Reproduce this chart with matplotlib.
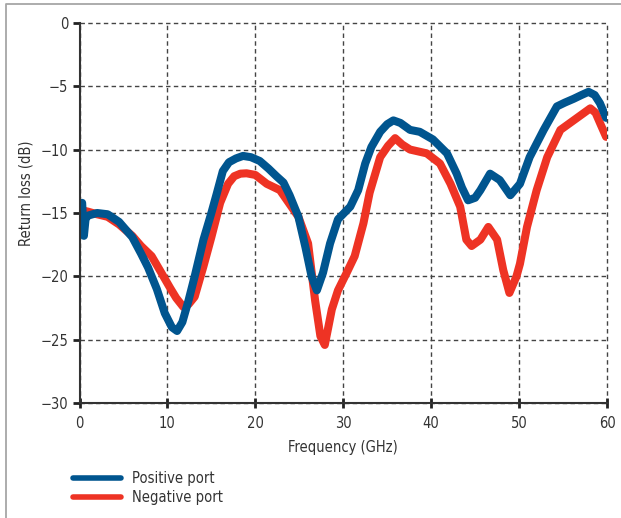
import matplotlib
matplotlib.use('Agg')
import matplotlib.pyplot as plt
from matplotlib.lines import Line2D

plt.rcParams['font.family'] = ['Liberation Sans Narrow', 'DejaVu Sans']
plt.rcParams['font.stretch'] = 'condensed'

# Positive port (blue)
pos_f = [0.3, 0.5, 0.7, 1.0, 2.0, 3.2, 4.5, 6.0, 7.0, 7.8, 8.8, 9.7, 10.5, 11.1, 11.7,
         12.4, 13.1, 14.1, 15.0, 15.6, 16.3, 17.0, 17.8, 18.6, 19.5, 20.5, 21.5, 22.4, 23.2,
         23.9, 24.9, 25.7, 26.4, 27.0, 27.7, 28.5, 29.4, 30.8, 31.7, 32.5, 33.2, 34.2,
         35.0, 35.7, 36.5, 37.6, 38.7, 40.2, 41.8, 42.9, 43.5, 44.2, 45.0, 45.6, 46.7,
         47.8, 49.0, 50.1, 51.2, 52.8, 54.3, 55.2, 56.2, 57.1, 57.9, 58.6, 59.2, 59.9]
pos_db = [-14.2, -16.8, -15.4, -15.2, -15.0, -15.1, -15.7, -16.9, -18.2, -19.3, -21.0,
          -22.9, -24.0, -24.3, -23.6, -21.9, -20.0, -17.1, -15.0, -13.5, -11.7, -11.0,
          -10.7, -10.5, -10.6, -10.9, -11.5, -12.1, -12.6, -13.6, -15.3, -17.7, -20.0, -21.1,
          -19.7, -17.4, -15.5, -14.5, -13.2, -11.1, -9.8, -8.6, -8.0, -7.7, -7.9, -8.45,
          -8.6, -9.2, -10.3, -11.9, -13.0, -14.0, -13.8, -13.2, -11.9, -12.4, -13.6,
          -12.7, -10.6, -8.45, -6.6, -6.3, -6.0, -5.7, -5.45, -5.7, -6.35, -7.5]

# Negative port (red)
neg_f = [0.4, 1.0, 2.0, 3.2, 4.5, 6.0, 7.0, 8.2, 9.3, 10.3, 11.0, 11.8, 12.4, 13.1, 14.1,
         15.0, 16.0, 16.9, 17.6, 18.3, 19.0, 20.0, 21.3, 22.8, 23.6, 24.9, 26.0, 26.8, 27.4,
         27.9, 28.7, 29.4, 30.4, 31.3, 32.3, 33.0, 34.2, 35.1, 35.9, 36.7, 37.6, 39.5,
         41.0, 42.2, 43.3, 44.0, 44.6, 45.6, 46.5, 47.5, 48.2, 48.9, 49.7, 50.1, 50.9,
         52.0, 53.2, 54.7, 56.2, 57.2, 58.1, 58.7, 59.2, 59.9]
neg_db = [-14.8, -14.9, -15.1, -15.3, -15.9, -16.8, -17.6, -18.4, -19.7, -20.9, -21.7,
          -22.4, -22.2, -21.6, -19.2, -16.9, -14.2, -12.7, -12.1, -11.9, -11.87, -12.0,
          -12.7, -13.2, -14.0, -15.3, -17.4, -21.9, -24.7, -25.4, -22.6, -21.1, -19.7,
          -18.4, -15.8, -13.4, -10.6, -9.7, -9.1, -9.6, -10.0, -10.3, -11.1, -12.7, -14.5,
          -17.1, -17.6, -17.1, -16.1, -17.1, -19.5, -21.3, -20.0, -19.0, -16.1, -13.2,
          -10.6, -8.45, -7.7, -7.2, -6.75, -7.1, -7.9, -9.0]

x_ticks = [0, 10, 20, 30, 40, 50, 60]
y_ticks = [0, -5, -10, -15, -20, -25, -30]

blue = '#00558f'
red = '#ee3324'
txt = '#333333'

fig = plt.figure(figsize=(6.21, 5.18), dpi=100)
ax = fig.add_axes([79.5 / 621, 1 - 403.3 / 518, 527.5 / 621, 380.6 / 518])

ax.plot(neg_f, neg_db, color=red, lw=5.8, solid_capstyle='round', solid_joinstyle='round')
ax.plot(pos_f, pos_db, color=blue, lw=5.8, solid_capstyle='round', solid_joinstyle='round')

ax.set_xlim(0, 60)
ax.set_ylim(-30, 0)
ax.set_xticks(x_ticks)
ax.set_yticks(y_ticks)
ax.grid(True, ls=(0, (3.2, 2.4)), color='#444444', lw=1.0)
ax.set_axisbelow(True)
for g in ax.get_xgridlines() + ax.get_ygridlines():
    g.set_clip_on(False)

for s in ['top', 'right']:
    ax.spines[s].set_visible(False)
for s in ['left', 'bottom']:
    ax.spines[s].set_color('#333333')
    ax.spines[s].set_linewidth(1.5)
ax.tick_params(axis='y', direction='out', length=5, width=2, color='#222222',
               labelsize=10.5, labelcolor=txt, pad=3)
ax.tick_params(axis='x', direction='inout', length=7, width=2, color='#222222',
               labelsize=10.5, labelcolor=txt, pad=6)

ax.set_xlabel('Frequency (GHz)', fontsize=10.5, color=txt, labelpad=6)
ax.set_ylabel('Return loss (dB)', fontsize=10.5, color=txt)
ax.yaxis.set_label_coords(-0.088, 0.5525)

handles = [Line2D([], [], color=blue, lw=4, solid_capstyle='round'),
           Line2D([], [], color=red, lw=4, solid_capstyle='round')]
fig.legend(handles, ['Positive port', 'Negative port'], loc='upper left',
           bbox_to_anchor=(66 / 621, 1 - 464 / 518), frameon=False, fontsize=10.5,
           handlelength=3.3, handletextpad=0.7, labelspacing=0.25, borderpad=0,
           labelcolor=txt)

# thin frame around the figure (top and left)
fig.add_artist(Line2D([6 / 621, 6 / 621, 1], [0, 1 - 4 / 518, 1 - 4 / 518],
                      transform=fig.transFigure, color='#a6a6a6', lw=1.3))

fig.savefig('out.png', dpi=100)
